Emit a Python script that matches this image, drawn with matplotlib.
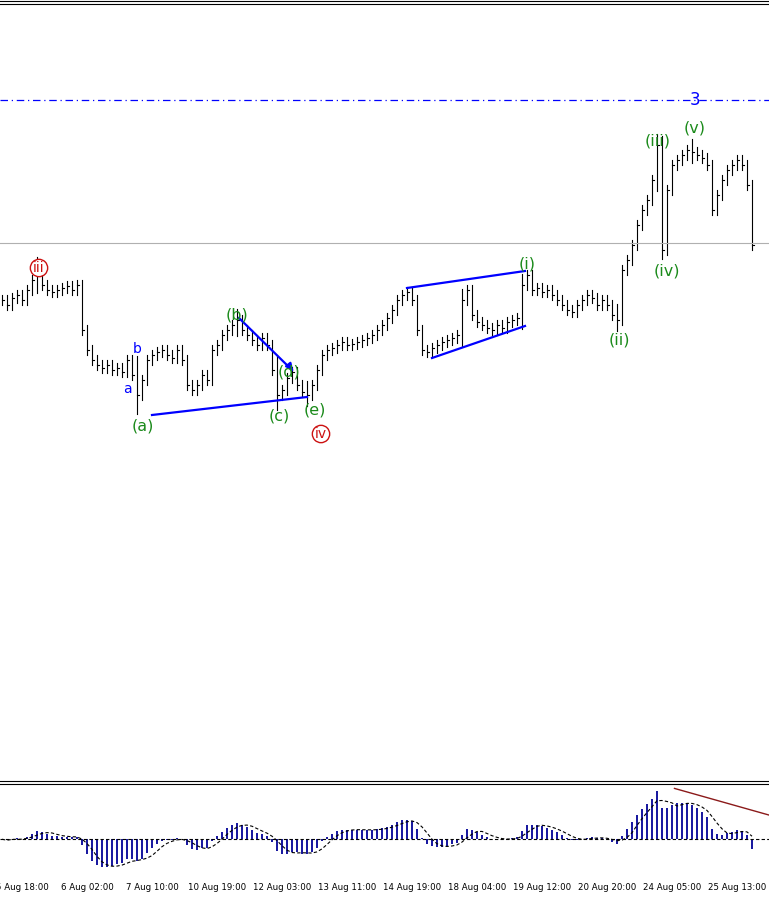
import matplotlib
matplotlib.use("Agg")
import matplotlib.pyplot as plt
import numpy as np

# closes expressed as chart price
close_px = [300,305,298,295,300,290,280,270,285,290,
            292,290,288,286,290,285,330,350,360,365,
            368,365,370,368,372,360,375,395,380,360,
            355,352,350,355,358,350,360,385,390,385,
            375,380,350,345,335,330,325,320,330,335,
            340,345,338,345,370,395,390,378,372,385,
            392,395,385,370,355,350,348,345,342,345,
            344,342,340,338,335,330,325,318,310,300,
            295,292,300,330,350,352,348,345,342,340,
            338,335,300,290,315,322,325,328,330,325,
            328,322,320,318,285,275,290,288,292,290,
            295,300,305,310,312,305,300,295,298,305,
            300,305,315,320,270,260,245,225,210,200,
            180,145,250,190,165,160,155,150,152,155,
            158,165,210,195,180,170,165,160,165,185,
            245]
closes = [1.2000 - p / 10000 for p in close_px]
wick_extra = {7: 8, 27: 14, 47: 6, 55: 10, 61: 6, 92: 6, 104: 6, 123: 6, 131: 6, 132: 4, 138: 6}
xlabels = ["5 Aug 18:00", "6 Aug 02:00", "7 Aug 10:00", "10 Aug 19:00", "12 Aug 03:00",
           "13 Aug 11:00", "14 Aug 19:00", "18 Aug 04:00", "19 Aug 12:00", "20 Aug 20:00",
           "24 Aug 05:00", "25 Aug 13:00"]
xlabel_pos = [4, 17, 30, 43, 56, 69, 82, 95, 108, 121, 134, 147]

def py(p):  # pixel y -> price
    return 1.2000 - p / 10000

W, H = 769, 897
fig = plt.figure(figsize=(W/100, H/100), dpi=100)
fig.patch.set_facecolor("white")
ax = fig.add_axes([0, 1 - 778/H, 1, 772/H])
ax.set_xlim(-0.4, W/5 - 0.4)
ax.set_ylim(py(778), py(6))
ax.axis("off")
n = len(closes)
for i in range(n):
    prev = closes[i-1] if i else closes[i]
    hi = max(prev, closes[i]) + 0.0005 + wick_extra.get(i, 0)/10000
    lo = min(prev, closes[i]) - 0.0005 - wick_extra.get(i, 0)/10000
    ax.plot([i, i], [lo, hi], color="black", lw=0.8)
    ax.plot([i, i+0.35], [closes[i]]*2, color="black", lw=0.8)
ax.axhline(py(243), color="#b0b0b0", lw=0.8)
ax.axhline(py(100), color="blue", lw=0.9, ls=(0, (6, 3, 1, 3)))
ax.text(693/5, py(100), "3", color="blue", fontsize=12, ha="center", va="center")

def L(x1, y1, x2, y2, **kw):
    ax.plot([x1/5, x2/5], [py(y1), py(y2)], color="blue", lw=1.6, **kw)
L(150, 415, 305, 397); L(405, 288, 523, 271); L(430, 358, 523, 326); L(237, 318, 290, 370)
ax.annotate("", xy=(293/5, py(373)), xytext=(285/5, py(363)),
            arrowprops=dict(arrowstyle="-|>", color="blue", lw=1.6))
g = "#1a8a1a"
for t, x, y in [("(a)", 141, 426), ("(b)", 235, 315), ("(c)", 277, 416), ("(d)", 287, 372),
                ("(e)", 313, 410), ("(i)", 525, 264), ("(ii)", 617, 340), ("(iii)", 656, 141),
                ("(iv)", 665, 271), ("(v)", 693, 128)]:
    ax.text(x/5, py(y), t, color=g, fontsize=11.5, ha="center", va="center")
ax.text(125/5, py(389), "a", color="blue", fontsize=10, ha="center", va="center")
ax.text(135/5, py(349), "b", color="blue", fontsize=10, ha="center", va="center")
for t, x, y in [("iii", 37, 268), ("iv", 319, 434)]:
    ax.text(x/5, py(y), t, color="#cc1111", fontsize=10, ha="center", va="center",
            bbox=dict(boxstyle="circle,pad=0.12", fc="white", ec="#cc1111", lw=1))
fig.add_artist(plt.Line2D([0, 1], [1-1/H, 1-1/H], color="black", lw=0.8))
fig.add_artist(plt.Line2D([0, 1], [1-4/H, 1-4/H], color="black", lw=0.8))
fig.add_artist(plt.Line2D([0, 1], [1-781/H, 1-781/H], color="black", lw=0.8))
fig.add_artist(plt.Line2D([0, 1], [1-784/H, 1-784/H], color="black", lw=0.8))

# indicator (MACD of closes)
c = np.array(closes)
def ema(x, k):
    a = 2/(k+1); out = np.empty_like(x); out[0] = x[0]
    for i in range(1, len(x)): out[i] = a*x[i] + (1-a)*out[i-1]
    return out
macd = ema(c, 6) - ema(c, 13)
sig = np.convolve(macd, np.ones(4)/4, mode="full")[:n]
sig[:3] = macd[:3]
ax2 = fig.add_axes([0, 1 - 878/H, 1, 92/H])
ax2.set_xlim(-0.4, W/5 - 0.4)
m = np.abs(macd).max()
ax2.set_ylim(-m*0.8, m*1.1)
ax2.axis("off")
ax2.bar(np.arange(n), macd, width=0.45, color="#1a1aa0")
ax2.plot(np.arange(n), sig, color="black", lw=0.8, ls=(0, (3, 2)))
ax2.axhline(0, color="black", lw=0.8, ls=(0, (3, 2)))
ax2.plot([134.5, 153.4], [m*1.05, m*0.5], color="#8b1a1a", lw=1)
for t, x in zip(xlabels, xlabel_pos):
    fig.text((x*5+2)/W, 1 - 887/H, t, fontsize=6.2, ha="center", va="center", family="DejaVu Sans")
fig.savefig("out.png", dpi=100)
